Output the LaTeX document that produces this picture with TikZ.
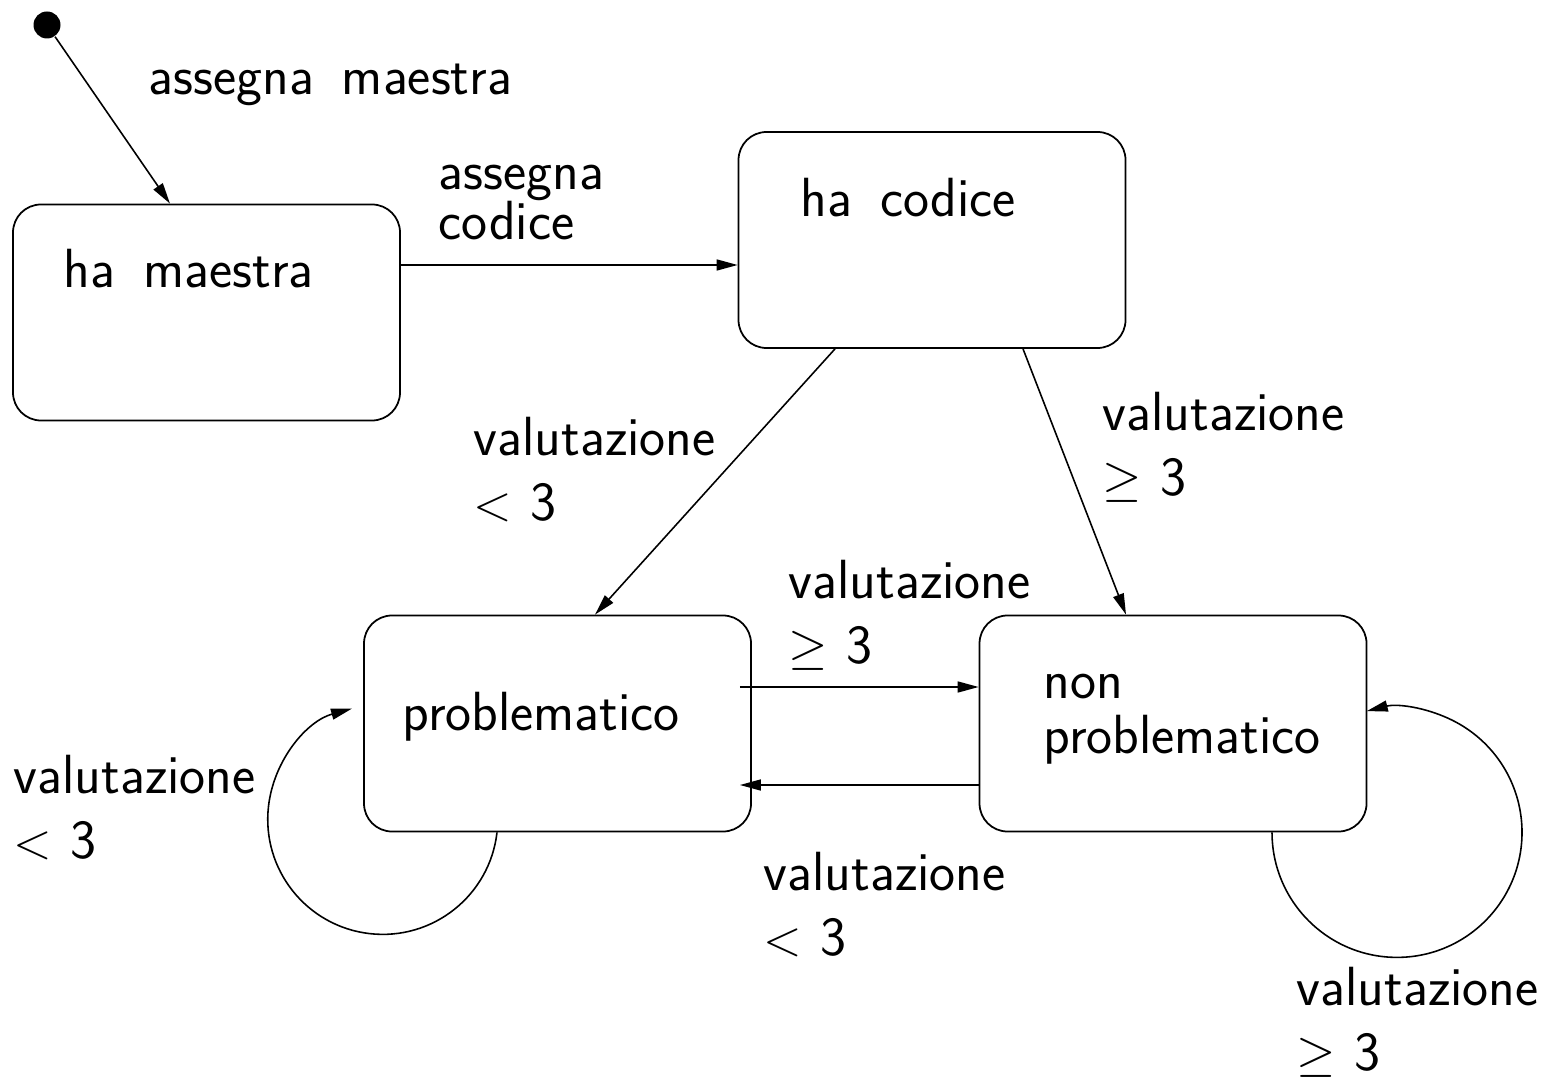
\documentclass[tikz,border=0pt]{standalone}
\usepackage{amsmath, amssymb}
\usepackage{tikz}
\usetikzlibrary{arrows.meta,positioning,calc}
\newcommand{\lblfont}{\fontsize{15.7}{18.4}\selectfont\sffamily\spaceskip 8pt\relax}
\newcommand{\gap}{\hspace{0.33em}}

\begin{document}
\begin{tikzpicture}[
    state/.style={draw, rounded corners=2.8mm, line width=0.5pt,
      minimum width=3.87cm, minimum height=2.16cm},
    lbl/.style={anchor=base west, inner sep=0pt, align=left, font=\lblfont},
    edge/.style={line width=0.45pt, -{Triangle[length=2.1mm,width=1.1mm]}}
  ]
  \useasboundingbox (0,0) rectangle (15.51,10.85);

  % Initial state
  \node[circle, fill, inner sep=0pt, minimum size=0.27cm] (init) at (0.47, 10.60) {};

  % States
  \node[state] (mae)  at (2.065, 7.725) {};
  \node[state] (cod)  at (9.32, 8.45) {};
  \node[state] (prob) at (5.575, 3.615) {};
  \node[state] (nonp) at (11.73, 3.615) {};

  % State names
  \node[lbl] (tmae)  at (0.63, 7.97) {ha maestra};
  \node[lbl] (tcod)  at (8.00, 8.68) {ha codice};
  \node[lbl] (tprob) at (4.02, 3.55) {problematico};
  \node[lbl] (tnonp) at (10.43, 3.32) {non\\[-3pt]problematico};

  % Transitions
  \draw[edge] (init) -- ([xshift=-3.65mm]mae.north);
  \coordinate (a1) at ([yshift=4.75mm]mae.east);
  \draw[edge] (a1) -- (a1 -| cod.west);
  \draw[edge] ([xshift=-9.7mm]cod.south) -- ([xshift=3.75mm]prob.north);
  \draw[edge] ([xshift=9.1mm]cod.south) -- ([xshift=-4.7mm]nonp.north);
  \coordinate (a2) at ([shift={(-1.2mm,3.65mm)}]prob.east);
  \draw[edge] (a2) -- (a2 -| nonp.west);
  \coordinate (a3) at ([yshift=-6.15mm]nonp.west);
  \coordinate (a4) at ([xshift=-1.2mm]prob.east);
  \draw[edge] (a3) -- (a3 -| a4);

  % Self loops
  \draw[edge] ([xshift=-6.05mm]prob.south) arc[start angle=-6.5, end angle=-254.5, radius=1.15cm];
  \draw[edge] ([xshift=9.9mm]nonp.south) arc[start angle=180, end angle=464, radius=1.25cm];

  % Transition labels
  \node[lbl] (lmae)  at (1.48, 9.90) {assegna maestra};
  \node[lbl] (lcod)  at (4.38, 8.45) {assegna\\[-4pt]codice};
  \node[lbl] (lcp)   at (4.73, 5.65) {valutazione\\$<$\gap3};
  \node[lbl] (lcn)   at (11.02, 5.90) {valutazione\\$\geq$\gap3};
  \node[lbl] (lpn)   at (7.88, 4.22) {valutazione\\$\geq$\gap3};
  \node[lbl] (lnp)   at (7.63, 1.30) {valutazione\\$<$\gap3};
  \node[lbl] (lpp)   at (0.13, 2.27) {valutazione\\$<$\gap3};
  \node[lbl] (lnn)   at (12.96, 0.15) {valutazione\\$\geq$\gap3};
\end{tikzpicture}
\end{document}
